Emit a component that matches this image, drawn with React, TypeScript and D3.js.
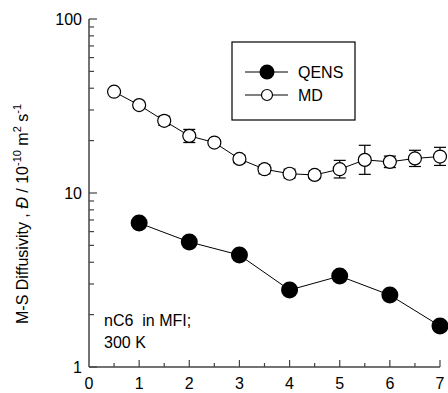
import React from "react";
import * as d3 from "d3";

const qensX = [1, 2, 3, 4, 5, 6, 7];
const qensY = [6.72, 5.23, 4.4, 2.77, 3.33, 2.59, 1.72];

const mdX = [0.5, 1, 1.5, 2, 2.5, 3, 3.5, 4, 4.5, 5, 5.5, 6, 6.5, 7];
const mdY = [38.2, 32.0, 26.0, 21.3, 19.5, 15.7, 13.7, 12.9, 12.7, 13.7, 15.5, 15.1, 15.8, 16.2];
const mdLow = [36.9, 30.8, 24.5, 19.5, 18.9, 14.9, 12.9, 12.2, 12.1, 12.2, 12.8, 14.0, 14.2, 14.4];
const mdHigh = [39.5, 33.3, 27.6, 23.2, 20.2, 16.5, 14.5, 13.7, 13.4, 15.4, 18.8, 16.3, 17.6, 18.3];

const xTicks = [0, 1, 2, 3, 4, 5, 6, 7];
const xMinor = [0.5, 1.5, 2.5, 3.5, 4.5, 5.5, 6.5];
const yTicks = [1, 10, 100];
const yMinor = [2, 3, 4, 5, 6, 7, 8, 9, 20, 30, 40, 50, 60, 70, 80, 90];

const legendLabels = ["QENS", "MD"];
const noteLines = ["nC6  in MFI;", "300 K"];

export default function App() {
  const W = 448, H = 393;
  const x = d3.scaleLinear().domain([0, 7]).range([89, 440]);
  const y = d3.scaleLog().domain([1, 100]).range([367, 19]);
  const font = "Liberation Sans, Arial, sans-serif";

  const line = d3.line<[number, number]>().x(d => x(d[0])).y(d => y(d[1]));
  const qensPts: [number, number][] = qensX.map((v, i) => [v, qensY[i]]);
  const mdPts: [number, number][] = mdX.map((v, i) => [v, mdY[i]]);

  return (
    <svg width={W} height={H} style={{ position: "absolute", left: 0, top: 0, background: "#fff" }}
      fontFamily={font}>
      {/* axes */}
      <line x1={x(0)} x2={x(0)} y1={y(100)} y2={y(1)} stroke="#444" strokeWidth={1.5} />
      <line x1={x(0)} x2={x(7)} y1={y(1)} y2={y(1)} stroke="#444" strokeWidth={1.5} />
      {xTicks.map(t => (
        <g key={"xt" + t}>
          {t > 0 && <line x1={x(t)} x2={x(t)} y1={y(1)} y2={y(1) - 7} stroke="#444" strokeWidth={1.2} />}
          <text x={x(t)} y={y(1) + 22} textAnchor="middle" fontSize={16} fill="#000">{t}</text>
        </g>
      ))}
      {xMinor.map(t => (
        <line key={"xm" + t} x1={x(t)} x2={x(t)} y1={y(1)} y2={y(1) - 4} stroke="#444" strokeWidth={1.2} />
      ))}
      {yTicks.map(t => (
        <g key={"yt" + t}>
          <line x1={x(0)} x2={x(0) + 8} y1={y(t)} y2={y(t)} stroke="#444" strokeWidth={1.2} />
          <text x={x(0) - 7} y={y(t) + 6} textAnchor="end" fontSize={16} fill="#000">{t}</text>
        </g>
      ))}
      {yMinor.map(t => (
        <line key={"ym" + t} x1={x(0)} x2={x(0) + 5} y1={y(t)} y2={y(t)} stroke="#444" strokeWidth={1.2} />
      ))}

      {/* y label */}
      <text transform={`translate(28,214) rotate(-90)`} textAnchor="middle" fontSize={16} fill="#000">
        M-S Diffusivity , <tspan fontStyle="italic">Đ</tspan> / 10
        <tspan dy={-7} fontSize={11}>-10</tspan>
        <tspan dy={7}> m</tspan>
        <tspan dy={-7} fontSize={11}>2</tspan>
        <tspan dy={7}> s</tspan>
        <tspan dy={-7} fontSize={11}>-1</tspan>
      </text>

      {/* MD error bars */}
      {mdX.map((v, i) => (
        <g key={"eb" + i} stroke="#000" strokeWidth={1.2}>
          <line x1={x(v)} x2={x(v)} y1={y(mdLow[i])} y2={y(mdHigh[i])} />
          <line x1={x(v) - 6} x2={x(v) + 6} y1={y(mdLow[i])} y2={y(mdLow[i])} />
          <line x1={x(v) - 6} x2={x(v) + 6} y1={y(mdHigh[i])} y2={y(mdHigh[i])} />
        </g>
      ))}

      {/* lines */}
      <path d={line(mdPts) || ""} fill="none" stroke="#000" strokeWidth={1} />
      <path d={line(qensPts) || ""} fill="none" stroke="#000" strokeWidth={1} />

      {mdPts.map((p, i) => (
        <circle key={"md" + i} cx={x(p[0])} cy={y(p[1])} r={6.5} fill="#fff" stroke="#000" strokeWidth={1.2} />
      ))}
      {qensPts.map((p, i) => (
        <circle key={"q" + i} cx={x(p[0])} cy={y(p[1])} r={8.5} fill="#000" />
      ))}

      {/* legend */}
      <rect x={232} y={42} width={123} height={78} fill="#fff" stroke="#000" strokeWidth={1.2} />
      <line x1={245} x2={288} y1={72} y2={72} stroke="#000" strokeWidth={1} />
      <circle cx={267} cy={72} r={7.5} fill="#000" />
      <text x={298} y={78} fontSize={16} fill="#000">{legendLabels[0]}</text>
      <line x1={245} x2={288} y1={95} y2={95} stroke="#000" strokeWidth={1} />
      <circle cx={267} cy={95} r={5.5} fill="#fff" stroke="#000" strokeWidth={1.2} />
      <text x={298} y={101} fontSize={16} fill="#000">{legendLabels[1]}</text>

      {/* note */}
      <text x={104} y={326} fontSize={16} fill="#000" style={{ whiteSpace: "pre" }}>{noteLines[0]}</text>
      <text x={104} y={348} fontSize={16} fill="#000">{noteLines[1]}</text>
    </svg>
  );
}
